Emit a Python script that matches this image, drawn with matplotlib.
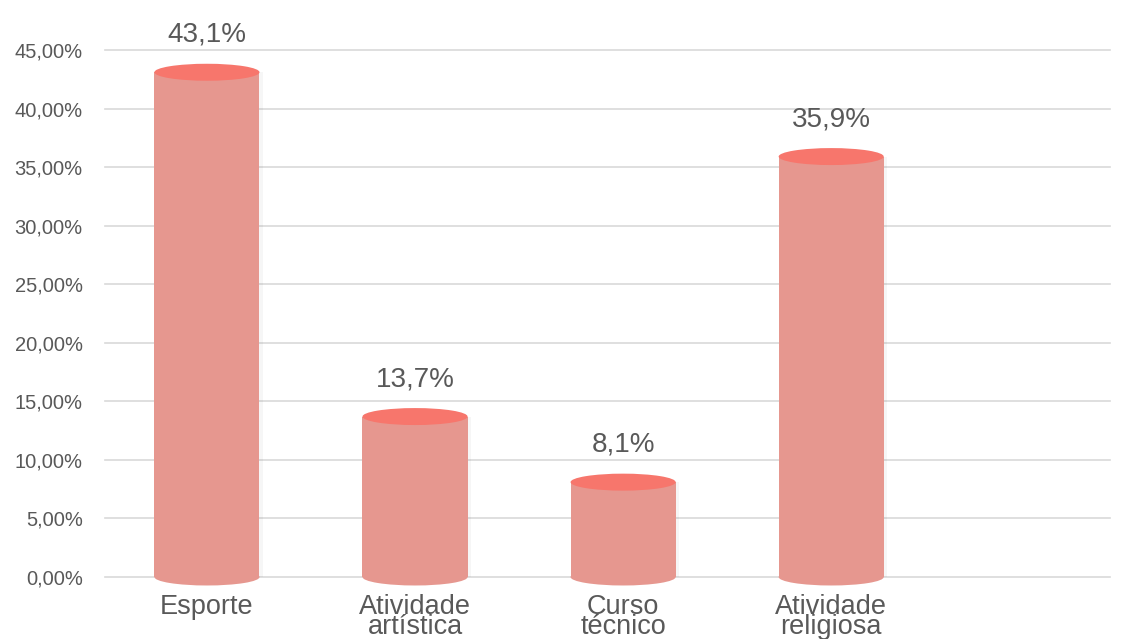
import matplotlib.pyplot as plt
from matplotlib.patches import Ellipse, Rectangle
from matplotlib.ticker import FuncFormatter

plt.rcParams['font.family'] = ['Liberation Sans', 'DejaVu Sans']

categorias = ['Esporte', 'Atividade\nartística', 'Curso\ntécnico', 'Atividade\nreligiosa']
valores = [43.1, 13.7, 8.1, 35.9]
rotulos = ['43,1%', '13,7%', '8,1%', '35,9%']

cor_corpo = '#E6978F'
cor_topo = '#F7766C'
cor_texto = '#595959'

fig = plt.figure(figsize=(11.35, 6.39), dpi=100)
ax = fig.add_axes([105/1135, 1 - 577/639, (1110 - 105)/1135, (577 - 50)/639])

larg = 0.505
elip_h = 1.45
for i, v in enumerate(valores):
    # sombra leve
    ax.add_patch(Rectangle((i - larg/2 + 0.015, 0), larg, v, facecolor='#000000', alpha=0.035,
                           zorder=2, clip_on=False, linewidth=0))
    ax.add_patch(Ellipse((i, 0), larg, elip_h, facecolor=cor_corpo, edgecolor='none', zorder=3, clip_on=False))
    ax.add_patch(Rectangle((i - larg/2, 0), larg, v, facecolor=cor_corpo, edgecolor='none', zorder=3))
    ax.add_patch(Ellipse((i, v), larg, elip_h, facecolor=cor_topo, edgecolor='none', zorder=4, clip_on=False))
    ax.annotate(rotulos[i], (i, v), xytext=(0, 27), textcoords='offset points',
                ha='center', va='center', fontsize=20, color=cor_texto, annotation_clip=False)

ax.set_xlim(-0.49, 4.34)
ax.set_ylim(0, 45)
ax.set_yticks(range(0, 46, 5))
ax.yaxis.set_major_formatter(FuncFormatter(lambda y, p: f'{y:.2f}%'.replace('.', ',')))
ax.set_xticks(range(len(categorias)))
ax.set_xticklabels(categorias, linespacing=0.74)
ax.tick_params(axis='x', length=0, pad=12, labelsize=19.5, labelcolor=cor_texto)
ax.tick_params(axis='y', length=0, pad=16, labelsize=14.5, labelcolor=cor_texto)
for g in range(0, 46, 5):
    ax.axhline(g, color='#D9D9D9', linewidth=1.2, zorder=0, clip_on=False)
for s in ax.spines.values():
    s.set_visible(False)

fig.savefig('out.png', dpi=100)
